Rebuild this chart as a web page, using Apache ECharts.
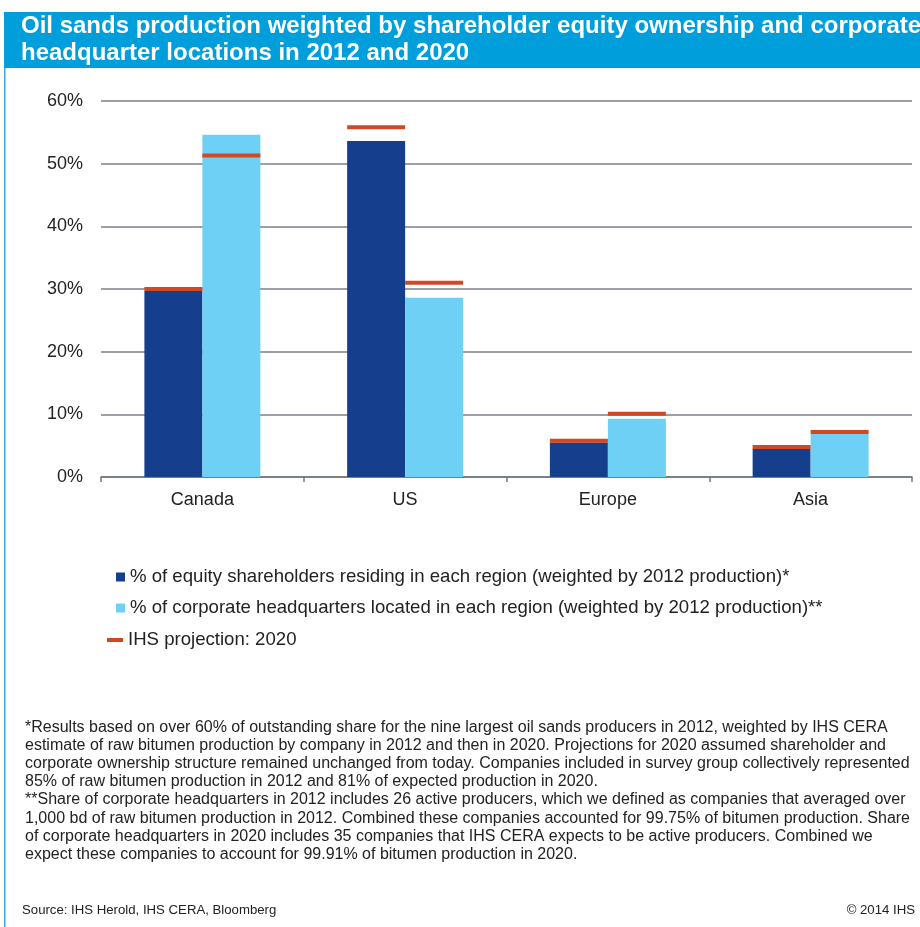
<!DOCTYPE html>
<html>
<head>
<meta charset="utf-8">
<script src="https://cdn.jsdelivr.net/npm/echarts@6/dist/echarts.min.js"></script>
<style>
  html, body { margin: 0; padding: 0; background: #fff; }
  #chart { width: 920px; height: 927px; }
</style>
</head>
<body>
<div id="chart"></div>
<script>
var regions = ['Canada', 'US', 'Europe', 'Asia'];
var equityShare = [29.7, 53.6, 5.5, 4.5];
var hqShare = [54.6, 28.6, 9.3, 6.9];
var projEquity = [30.0, 55.8, 5.8, 4.8];
var projHq = [51.3, 31.0, 10.1, 7.2];
var yTicks = [0, 10, 20, 30, 40, 50, 60];

var seriesNames = [
  '% of equity shareholders residing in each region (weighted by 2012 production)*',
  '% of corporate headquarters located in each region (weighted by 2012 production)**',
  'IHS projection: 2020'
];

var footnote = [
  '*Results based on over 60% of outstanding share for the nine largest oil sands producers in 2012, weighted by IHS CERA',
  'estimate of raw bitumen production by company in 2012 and then in 2020. Projections for 2020 assumed shareholder and',
  'corporate ownership structure remained unchanged from today. Companies included in survey group collectively represented',
  '85% of raw bitumen production in 2012 and 81% of expected production in 2020.',
  '**Share of corporate headquarters in 2012 includes 26 active producers, which we defined as companies that averaged over',
  '1,000 bd of raw bitumen production in 2012. Combined these companies accounted for 99.75% of bitumen production. Share',
  'of corporate headquarters in 2020 includes 35 companies that IHS CERA expects to be active producers. Combined we',
  'expect these companies to account for 99.91% of bitumen production in 2020.'
];

var FONT = "'Liberation Sans', Arial, sans-serif";
var DARK = '#153f8d';
var LIGHT = '#6fd0f5';
var RED = '#cf4a24';
var BAR_FRAC = 0.286;

// projection marks: [category index, value, side (0 = equity bar, 1 = hq bar)]
var projData = [];
for (var i = 0; i < regions.length; i++) {
  projData.push([i, projEquity[i], 0]);
  projData.push([i, projHq[i], 1]);
}

var myChart = echarts.init(document.getElementById('chart'));
var option = {
  animation: false,
  backgroundColor: '#fff',
  title: {
    text: 'Oil sands production weighted by shareholder equity ownership and corporate\nheadquarter locations in 2012 and 2020',
    left: 21,
    top: 13,
    padding: 0,
    textStyle: {
      color: '#fff',
      fontFamily: FONT,
      fontWeight: 'bold',
      fontSize: 24,
      lineHeight: 27
    }
  },
  graphic: [
    { type: 'rect', left: 4, top: 12, z: -1, shape: { width: 920, height: 56 }, style: { fill: '#009edb' } },
    { type: 'rect', left: 4, top: 68, z: -1, shape: { width: 1.5, height: 870 }, style: { fill: '#3aa6dc' } },
    {
      type: 'text', left: 25, top: 718,
      style: { text: footnote.join('\n'), fill: '#222', font: '16px ' + FONT, lineHeight: 18.2 }
    },
    {
      type: 'text', left: 22, top: 904,
      style: { text: 'Source: IHS Herold, IHS CERA, Bloomberg', fill: '#222', font: '13.2px ' + FONT }
    },
    {
      type: 'text', right: 5, top: 904,
      style: { text: '\u00a9 2014 IHS', fill: '#222', font: '13.2px ' + FONT }
    }
  ],
  legend: [
    {
      data: [seriesNames[0], seriesNames[1]],
      orient: 'vertical',
      left: 116,
      top: 566,
      itemWidth: 9,
      itemHeight: 9,
      itemGap: 9,
      icon: 'rect',
      padding: 0,
      selectedMode: false,
      textStyle: { fontFamily: FONT, fontSize: 18.6, color: '#222', lineHeight: 22 }
    },
    {
      data: [seriesNames[2]],
      orient: 'vertical',
      left: 107,
      top: 629,
      itemWidth: 16,
      itemHeight: 4,
      icon: 'rect',
      padding: 0,
      selectedMode: false,
      textStyle: { fontFamily: FONT, fontSize: 18.6, color: '#222', lineHeight: 22 }
    }
  ],
  grid: { left: 101, right: 8, top: 101, bottom: 450, containLabel: false },
  xAxis: {
    type: 'category',
    data: regions,
    axisLine: { lineStyle: { color: '#6f757c', width: 1.5 } },
    axisTick: { show: true, length: 5, lineStyle: { color: '#6f757c', width: 1.5 } },
    axisLabel: { fontFamily: FONT, fontSize: 18, color: '#222', margin: 14 },
    splitLine: { show: false }
  },
  yAxis: {
    type: 'value',
    min: yTicks[0],
    max: yTicks[yTicks.length - 1],
    interval: 10,
    axisLine: { show: false },
    axisTick: { show: false },
    axisLabel: { fontFamily: FONT, fontSize: 18, color: '#222', margin: 18, formatter: '{value}%' },
    splitLine: { lineStyle: { color: '#7a8188', width: 1.5 } }
  },
  series: [
    {
      name: seriesNames[0],
      type: 'bar',
      data: equityShare,
      barWidth: (BAR_FRAC * 100) + '%',
      barGap: '0%',
      itemStyle: { color: DARK }
    },
    {
      name: seriesNames[1],
      type: 'bar',
      data: hqShare,
      barWidth: (BAR_FRAC * 100) + '%',
      barGap: '0%',
      itemStyle: { color: LIGHT }
    },
    {
      name: seriesNames[2],
      type: 'custom',
      data: projData,
      encode: { x: 0, y: 1 },
      itemStyle: { color: RED },
      z: 5,
      renderItem: function (params, api) {
        var c = api.coord([api.value(0), api.value(1)]);
        var band = api.size([1, 0])[0];
        var w = band * BAR_FRAC;
        var x = api.value(2) === 0 ? c[0] - w : c[0];
        return {
          type: 'rect',
          shape: { x: x, y: c[1] - 2, width: w, height: 4 },
          style: { fill: RED }
        };
      }
    }
  ]
};
option && myChart.setOption(option);
</script>
</body>
</html>
